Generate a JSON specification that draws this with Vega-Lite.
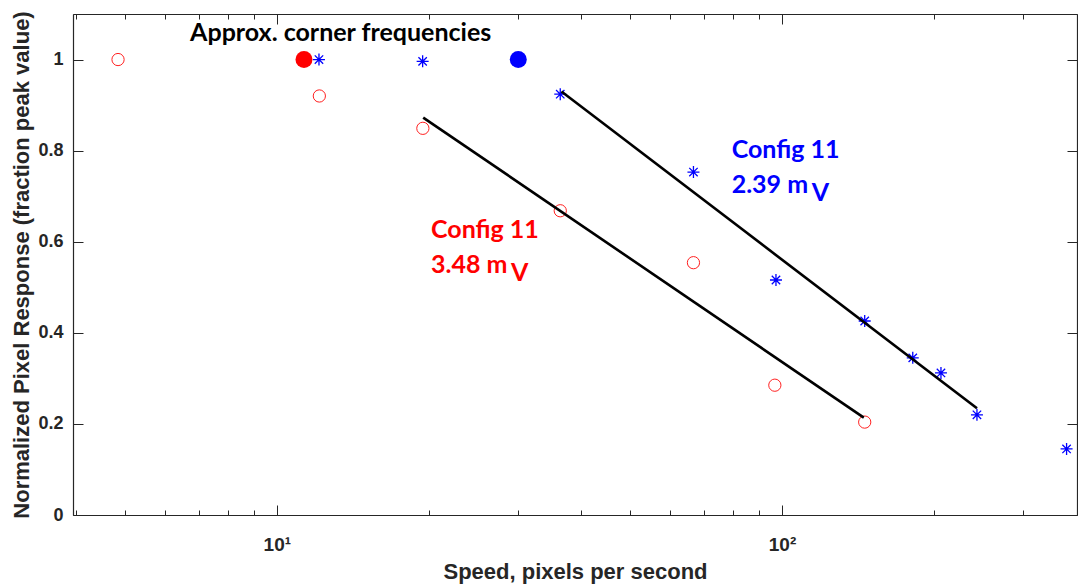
{
  "$schema": "https://vega.github.io/schema/vega-lite/v6.json",
  "autosize": {"type": "none"},
  "width": 1004,
  "height": 501,
  "padding": {"left": 73, "top": 14, "right": 1, "bottom": 73},
  "background": "white",
  "config": {
    "view": {"stroke": null},
    "axis": {
      "labelFont": "Liberation Sans",
      "labelFontWeight": "bold",
      "labelFontSize": 18,
      "labelColor": "#262626",
      "titleFont": "Liberation Sans",
      "titleFontWeight": "bold",
      "titleFontSize": 22,
      "titleColor": "#262626",
      "domainColor": "#262626",
      "tickColor": "#262626",
      "domainWidth": 1.2,
      "tickWidth": 1,
      "grid": false
    }
  },
  "datasets": {
    "red": [
      {"speed": 4.85, "resp": 1.0},
      {"speed": 12.14, "resp": 0.92},
      {"speed": 19.46, "resp": 0.849},
      {"speed": 36.4, "resp": 0.668},
      {"speed": 66.8, "resp": 0.554},
      {"speed": 96.8, "resp": 0.285},
      {"speed": 145.8, "resp": 0.204}
    ],
    "blue": [
      {"speed": 12.12, "resp": 1.0},
      {"speed": 19.44, "resp": 0.996},
      {"speed": 36.4, "resp": 0.924},
      {"speed": 66.8, "resp": 0.753},
      {"speed": 97.3, "resp": 0.516},
      {"speed": 145.8, "resp": 0.426},
      {"speed": 181.5, "resp": 0.345},
      {"speed": 206.4, "resp": 0.312},
      {"speed": 243.2, "resp": 0.22},
      {"speed": 365.9, "resp": 0.145}
    ],
    "corner": [
      {"speed": 11.32, "resp": 1.0, "group": "3.48 mV"},
      {"speed": 30.06, "resp": 1.0, "group": "2.39 mV"}
    ],
    "fits": [
      {"group": "3.48 mV", "speed": 19.49, "resp": 0.8726},
      {"group": "3.48 mV", "speed": 145.2, "resp": 0.2137},
      {"group": "2.39 mV", "speed": 36.6, "resp": 0.9297},
      {"group": "2.39 mV", "speed": 243.2, "resp": 0.2343}
    ],
    "notesBlack": [
      {"speed": 6.736, "resp": 1.0405, "label": "Approx. corner frequencies"}
    ],
    "notesRed": [
      {"speed": 20.2, "resp": 0.609, "label": "Config 11"},
      {"speed": 20.2, "resp": 0.531, "label": "3.48 m"}
    ],
    "subRed": [
      {"speed": 29.09, "resp": 0.513, "label": "V"}
    ],
    "notesBlue": [
      {"speed": 79.5, "resp": 0.7834, "label": "Config 11"},
      {"speed": 79.5, "resp": 0.7066, "label": "2.39 m"}
    ],
    "subBlue": [
      {"speed": 114.5, "resp": 0.6885, "label": "V"}
    ]
  },
  "encoding": {
    "x": {"field": "speed", "type": "quantitative", "scale": {"type": "log", "domain": [3.95, 383.7], "nice": false}},
    "y": {"field": "resp", "type": "quantitative", "scale": {"domain": [0, 1.1], "nice": false, "zero": false}}
  },
  "layer": [
    {
      "data": {"name": "red"},
      "mark": {"type": "point", "shape": "circle", "filled": false, "stroke": "#ff2020", "strokeWidth": 1, "size": 150, "opacity": 1},
      "encoding": {
        "x": {"field": "speed", "type": "quantitative", "axis": {
          "orient": "bottom", "values": [10, 100], "tickSize": -10, "labelPadding": 30, "labelFontSize": 19,
          "labelExpr": "datum.value == 10 ? '10¹' : (datum.value == 100 ? '10²' : '')",
          "title": "Speed, pixels per second", "titleY": 63.5, "titleBaseline": "alphabetic"
        }},
        "y": {"field": "resp", "type": "quantitative", "axis": {
          "orient": "left", "values": [0, 0.2, 0.4, 0.6, 0.8, 1], "tickSize": -10, "labelPadding": 20,
          "labelExpr": "format(datum.value, '~g')",
          "title": "Normalized Pixel Response (fraction peak value)", "titleX": -45, "titleBaseline": "alphabetic"
        }}
      }
    },
    {
      "data": {"name": "blue"},
      "mark": {"type": "point", "shape": "M-1,0H1M0,-1V1M-0.7,-0.7L0.7,0.7M-0.7,0.7L0.7,-0.7", "filled": false, "stroke": "#0000ff", "strokeWidth": 1.3, "size": 144, "opacity": 1},
      "encoding": {
        "x": {"field": "speed", "type": "quantitative", "axis": {
          "orient": "bottom", "values": [4, 5, 6, 7, 8, 9, 20, 30, 40, 50, 60, 70, 80, 90, 200, 300],
          "tickSize": -5, "labels": false, "title": null
        }},
        "y": {"field": "resp", "type": "quantitative", "axis": {
          "orient": "right", "values": [0, 0.2, 0.4, 0.6, 0.8, 1], "tickSize": -10, "labels": false, "title": null
        }}
      }
    },
    {
      "data": {"name": "corner"},
      "mark": {"type": "point", "shape": "circle", "filled": true, "size": 289, "opacity": 1},
      "encoding": {
        "x": {"field": "speed", "type": "quantitative", "axis": {
          "orient": "top", "values": [10, 100], "tickSize": -10, "labels": false, "title": null
        }},
        "y": {"field": "resp", "type": "quantitative", "axis": null},
        "color": {"field": "group", "type": "nominal", "scale": {"domain": ["3.48 mV", "2.39 mV"], "range": ["#ff0000", "#0000ff"]}, "legend": null}
      }
    },
    {
      "data": {"name": "fits"},
      "mark": {"type": "line", "color": "black", "strokeWidth": 2.6},
      "encoding": {
        "x": {"field": "speed", "type": "quantitative", "axis": {
          "orient": "top", "values": [4, 5, 6, 7, 8, 9, 20, 30, 40, 50, 60, 70, 80, 90, 200, 300],
          "tickSize": -5, "labels": false, "title": null
        }},
        "y": {"field": "resp", "type": "quantitative", "axis": null},
        "detail": {"field": "group", "type": "nominal"}
      }
    },
    {
      "data": {"name": "notesBlack"},
      "mark": {"type": "text", "align": "left", "baseline": "alphabetic", "font": "Lato", "fontWeight": "bold", "fontSize": 25, "color": "black"},
      "encoding": {
        "x": {"field": "speed", "type": "quantitative", "axis": null},
        "y": {"field": "resp", "type": "quantitative", "axis": null},
        "text": {"field": "label"}
      }
    },
    {
      "data": {"name": "notesRed"},
      "mark": {"type": "text", "align": "left", "baseline": "alphabetic", "font": "Lato", "fontWeight": "bold", "fontSize": 25, "color": "#ff0000"},
      "encoding": {
        "x": {"field": "speed", "type": "quantitative", "axis": null},
        "y": {"field": "resp", "type": "quantitative", "axis": null},
        "text": {"field": "label"}
      }
    },
    {
      "data": {"name": "subRed"},
      "mark": {"type": "text", "align": "left", "baseline": "alphabetic", "font": "Lato", "fontWeight": "bold", "fontSize": 25, "color": "#ff0000"},
      "encoding": {
        "x": {"field": "speed", "type": "quantitative", "axis": null},
        "y": {"field": "resp", "type": "quantitative", "axis": null},
        "text": {"field": "label"}
      }
    },
    {
      "data": {"name": "notesBlue"},
      "mark": {"type": "text", "align": "left", "baseline": "alphabetic", "font": "Lato", "fontWeight": "bold", "fontSize": 25, "color": "#0000ff"},
      "encoding": {
        "x": {"field": "speed", "type": "quantitative", "axis": null},
        "y": {"field": "resp", "type": "quantitative", "axis": null},
        "text": {"field": "label"}
      }
    },
    {
      "data": {"name": "subBlue"},
      "mark": {"type": "text", "align": "left", "baseline": "alphabetic", "font": "Lato", "fontWeight": "bold", "fontSize": 25, "color": "#0000ff"},
      "encoding": {
        "x": {"field": "speed", "type": "quantitative", "axis": null},
        "y": {"field": "resp", "type": "quantitative", "axis": null},
        "text": {"field": "label"}
      }
    }
  ],
  "resolve": {"axis": {"x": "independent", "y": "independent"}}
}
